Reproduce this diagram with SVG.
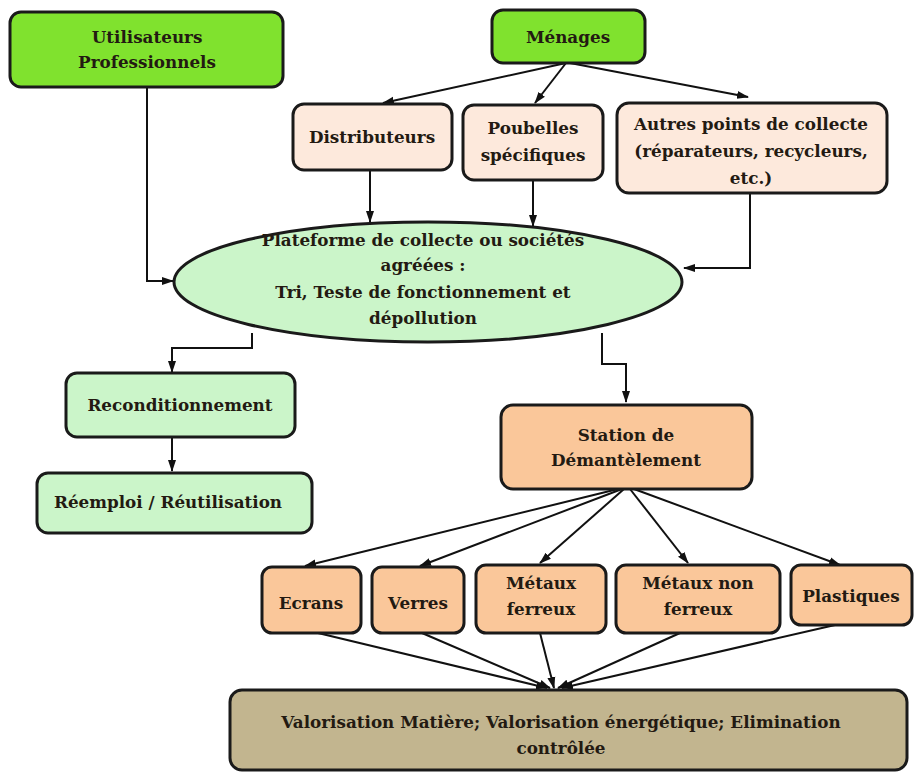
<svg xmlns="http://www.w3.org/2000/svg" width="914" height="773" viewBox="0 0 914 773">
<defs>
<marker id="ah" markerWidth="12" markerHeight="10" refX="11" refY="5" orient="auto" markerUnits="userSpaceOnUse"><path d="M0,1 L12,5 L0,9 Z" fill="#111"/></marker>
<style>
.box{stroke:#1a1a1a;stroke-width:3}
.g{fill:#80e22e}
.p{fill:#fde9dc}
.lg{fill:#cbf5c9}
.o{fill:#fac79a}
.k{fill:#c2b58f}
text{font-family:"DejaVu Serif","Liberation Serif",serif;font-weight:bold;font-size:16.8px;fill:#231a12;text-anchor:middle}
.c line,.c path{stroke:#111;stroke-width:2;fill:none}
</style>
</defs>
<rect width="914" height="773" fill="#fff"/>
<g class="c">
<path d="M147,87 V281 H173" marker-end="url(#ah)"/>
<line x1="566" y1="63" x2="383" y2="103" marker-end="url(#ah)"/>
<line x1="566" y1="63" x2="535" y2="103" marker-end="url(#ah)"/>
<line x1="570" y1="63" x2="748" y2="97" marker-end="url(#ah)"/>
<line x1="370" y1="170" x2="370" y2="222" marker-end="url(#ah)"/>
<line x1="533" y1="180" x2="533" y2="226" marker-end="url(#ah)"/>
<path d="M750,193 V268 H684" marker-end="url(#ah)"/>
<path d="M252,333 V348 H172 V372" marker-end="url(#ah)"/>
<line x1="172" y1="437" x2="172" y2="471" marker-end="url(#ah)"/>
<path d="M602,333 V364 H626 V402" marker-end="url(#ah)"/>
<line x1="618" y1="489" x2="305" y2="566" marker-end="url(#ah)"/>
<line x1="622" y1="489" x2="420" y2="566" marker-end="url(#ah)"/>
<line x1="624" y1="489" x2="540" y2="563" marker-end="url(#ah)"/>
<line x1="630" y1="489" x2="688" y2="563" marker-end="url(#ah)"/>
<line x1="634" y1="489" x2="840" y2="565" marker-end="url(#ah)"/>
<line x1="318" y1="633" x2="547" y2="688" marker-end="url(#ah)"/>
<line x1="422" y1="633" x2="550" y2="688" marker-end="url(#ah)"/>
<line x1="540" y1="633" x2="554" y2="688" marker-end="url(#ah)"/>
<line x1="680" y1="633" x2="558" y2="688" marker-end="url(#ah)"/>
<line x1="835" y1="625" x2="562" y2="688" marker-end="url(#ah)"/>
</g>
<g id="utilisateurs">
<rect class="box g" x="10" y="12" width="273" height="75" rx="11"/>
<text x="147" y="43">Utilisateurs</text>
<text x="147" y="68">Professionnels</text>
</g>
<g id="menages">
<rect class="box g" x="492" y="10" width="153" height="53" rx="11"/>
<text x="568" y="43">Ménages</text>
</g>
<g id="distributeurs">
<rect class="box p" x="293" y="104" width="159" height="66" rx="11"/>
<text x="372" y="143">Distributeurs</text>
</g>
<g id="poubelles">
<rect class="box p" x="463" y="105" width="140" height="75" rx="11"/>
<text x="533" y="134">Poubelles</text>
<text x="533" y="161">spécifiques</text>
</g>
<g id="autres">
<rect class="box p" x="617" y="103" width="270" height="90" rx="12"/>
<text x="751" y="130">Autres points de collecte</text>
<text x="751" y="157">(réparateurs, recycleurs,</text>
<text x="751" y="184">etc.)</text>
</g>
<g id="plateforme">
<ellipse class="box lg" cx="428" cy="282" rx="254" ry="60"/>
<text x="423" y="246">Plateforme de collecte ou sociétés</text>
<text x="423" y="271">agréées :</text>
<text x="423" y="298">Tri, Teste de fonctionnement et</text>
<text x="423" y="324">dépollution</text>
</g>
<g id="reconditionnement">
<rect class="box lg" x="66" y="373" width="229" height="64" rx="11"/>
<text x="180" y="411">Reconditionnement</text>
</g>
<g id="reemploi">
<rect class="box lg" x="37" y="473" width="275" height="60" rx="11"/>
<text x="168" y="508">Réemploi / Réutilisation</text>
</g>
<g id="station">
<rect class="box o" x="501" y="405" width="251" height="84" rx="12"/>
<text x="626" y="441">Station de</text>
<text x="626" y="466">Démantèlement</text>
</g>
<g id="ecrans">
<rect class="box o" x="262" y="567" width="99" height="66" rx="10"/>
<text x="311" y="609">Ecrans</text>
</g>
<g id="verres">
<rect class="box o" x="372" y="567" width="92" height="66" rx="10"/>
<text x="418" y="609">Verres</text>
</g>
<g id="metaux-ferreux">
<rect class="box o" x="476" y="565" width="130" height="68" rx="10"/>
<text x="541" y="589">Métaux</text>
<text x="541" y="615">ferreux</text>
</g>
<g id="metaux-non-ferreux">
<rect class="box o" x="616" y="565" width="164" height="68" rx="10"/>
<text x="698" y="589">Métaux non</text>
<text x="698" y="615">ferreux</text>
</g>
<g id="plastiques">
<rect class="box o" x="791" y="565" width="121" height="60" rx="10"/>
<text x="851" y="602">Plastiques</text>
</g>
<g id="valorisation">
<rect class="box k" x="230" y="690" width="677" height="80" rx="12"/>
<text x="561" y="728">Valorisation Matière; Valorisation énergétique; Elimination</text>
<text x="561" y="754">contrôlée</text>
</g>
</svg>
